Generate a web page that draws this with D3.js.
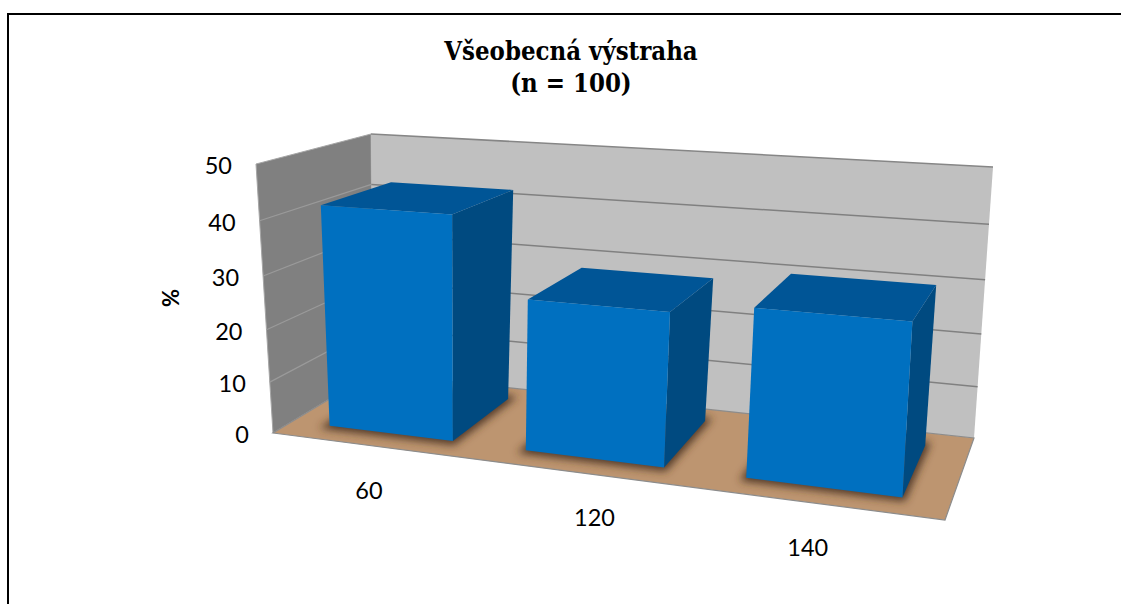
<!DOCTYPE html>
<html><head><meta charset="utf-8">
<script src="https://cdn.jsdelivr.net/npm/d3@7"></script>
<style>html,body{margin:0;padding:0;background:#fff}svg{display:block}</style></head>
<body><svg id="c" width="1121" height="604"></svg>
<script>
const categories = ["60","120","140"];
const values = [42,28,30];
const valueTicks = [0,10,20,30,40,50];
const titleLines = ["Všeobecná výstraha","(n = 100)"];
const yTitle = "%";

function solve(A,b){const n=b.length,M=A.map((r,i)=>[...r,b[i]]);
  for(let i=0;i<n;i++){let p=i;for(let k=i+1;k<n;k++)if(Math.abs(M[k][i])>Math.abs(M[p][i]))p=k;
    [M[i],M[p]]=[M[p],M[i]];
    for(let k=0;k<n;k++){if(k===i)continue;const f=M[k][i]/M[i][i];for(let j=i;j<=n;j++)M[k][j]-=f*M[i][j];}}
  return M.map((r,i)=>r[n]/r[i]);}
function homography(cs){let A=[],b=[];
  cs.forEach(([u,w,x,y])=>{A.push([u,w,1,0,0,0,-u*x,-w*x]);b.push(x);A.push([0,0,0,u,w,1,-u*y,-w*y]);b.push(y);});
  const h=solve(A,b);
  return (u,w)=>{const z=h[6]*u+h[7]*w+1;return [(h[0]*u+h[1]*w+h[2])/z,(h[3]*u+h[4]*w+h[5])/z];};}
// chart box corners on screen: floor plane and top plane, (u,w) in unit square
const floorH=homography([[0,0,273,433],[1,0,945,520],[0,1,373,373],[1,1,974,438]]);
const topH=homography([[0,0,256,164],[1,0,962,207],[0,1,371,134],[1,1,993,167]]);
const persp=0.07;
function P(u,v,w){const a=floorH(u,w),b=topH(u,w),f=v/(1+persp*(1-v));return [a[0]+(b[0]-a[0])*f,a[1]+(b[1]-a[1])*f];}

const uScale=d3.scaleBand().domain(categories).range([0.002,1.002]).paddingInner(0.3585).paddingOuter(0.1944);
const vScale=d3.scaleLinear().domain([0,50]).range([0,1]);
const wBar=[0.18,0.83];
const labelNudge=[-3,15,-6];
const poly=pts=>"M"+pts.map(p=>p.map(n=>n.toFixed(1)).join(",")).join("L")+"Z";
const svg=d3.select("#c");
const defs=svg.append("defs");
defs.append("filter").attr("id","blur").attr("x","-20%").attr("y","-20%").attr("width","140%").attr("height","140%")
  .append("feGaussianBlur").attr("stdDeviation",4.5);
defs.append("clipPath").attr("id","fc").append("path").attr("d",poly([P(0,0,0),P(1,0,0),P(1,0,1),P(0,0,1)]));

// frame
svg.append("path").attr("d","M8,604V14H1121").attr("fill","none").attr("stroke","#000").attr("stroke-width",2);

// walls
svg.append("path").attr("d",poly([P(0,0,0),P(0,1,0),P(0,1,1),P(0,0,1)])).attr("fill","#808080").attr("stroke","#a6a6a6").attr("stroke-width",1);
svg.append("path").attr("d",poly([P(0,0,1),P(0,1,1),P(1,1,1),P(1,0,1)])).attr("fill","#c0c0c0");
svg.append("path").attr("d",poly([P(0,1,1),P(1,1,1)])).attr("fill","none").attr("stroke","#868686").attr("stroke-width",1.5);
valueTicks.slice(1,-1).forEach(t=>{const v=vScale(t);
  svg.append("path").attr("d",poly([P(0,v,0),P(0,v,1)])).attr("stroke","#9a9a9a").attr("stroke-width",1.2).attr("fill","none");
  svg.append("path").attr("d",poly([P(0,v,1),P(1,v,1)])).attr("stroke","#808080").attr("stroke-width",1.5).attr("fill","none");
});
// floor
svg.append("path").attr("d",poly([P(0,0,0),P(1,0,0),P(1,0,1),P(0,0,1)])).attr("fill","#bd9570").attr("stroke","#8c8c8c").attr("stroke-width",1.2);

// bars
const gS=svg.append("g").attr("clip-path","url(#fc)");
categories.forEach((cat,i)=>{
  const u0=uScale(cat),u1=u0+uScale.bandwidth(),[w0,w1]=wBar;
  gS.append("path").attr("d",poly([P(u0,0,w0),P(u1,0,w0),P(u1,0,w1),P(u0,0,w1)])).attr("fill","#4a3120").attr("fill-opacity",.8)
    .attr("stroke","#4a3120").attr("stroke-width",7).attr("filter","url(#blur)");
});
categories.forEach((cat,i)=>{
  const u0=uScale(cat),u1=u0+uScale.bandwidth(),[w0,w1]=wBar,v=vScale(values[i]);
  const g=svg.append("g");
  g.append("path").attr("d",poly([P(u1,0,w0),P(u1,0,w1),P(u1,v,w1),P(u1,v,w0)])).attr("fill","#004a80");
  g.append("path").attr("d",poly([P(u0,v,w0),P(u1,v,w0),P(u1,v,w1),P(u0,v,w1)])).attr("fill","#005596");
  g.append("path").attr("d",poly([P(u0,0,w0),P(u1,0,w0),P(u1,v,w0),P(u0,v,w0)])).attr("fill","#0070c0");
});

// text
const sans="Lato, 'Open Sans', sans-serif";
valueTicks.forEach(t=>{const p=P(0,vScale(t),0);
  svg.append("text").attr("x",p[0]-24).attr("y",p[1]+10).attr("text-anchor","end").attr("font-family",sans).attr("font-size",23.5).attr("fill","#000").text(t);});
categories.forEach((cat,i)=>{const u=uScale(cat)+uScale.bandwidth()/2;const p=P(u,0,0);
  svg.append("text").attr("x",p[0]+labelNudge[i]).attr("y",p[1]+53).attr("text-anchor","middle").attr("font-family",sans).attr("font-size",23.5).attr("fill","#000").text(cat);});
svg.append("text").attr("transform","translate(179,298) rotate(-90)").attr("text-anchor","middle").attr("font-family",sans).attr("font-weight","bold").attr("font-size",22).text(yTitle);
titleLines.forEach((s,i)=>svg.append("text").attr("x",571).attr("y",60+i*32).attr("text-anchor","middle")
  .attr("font-family","'DejaVu Serif Condensed','DejaVu Serif',serif").attr("font-weight","bold").attr("font-size",25.5).text(s));
</script></body></html>
